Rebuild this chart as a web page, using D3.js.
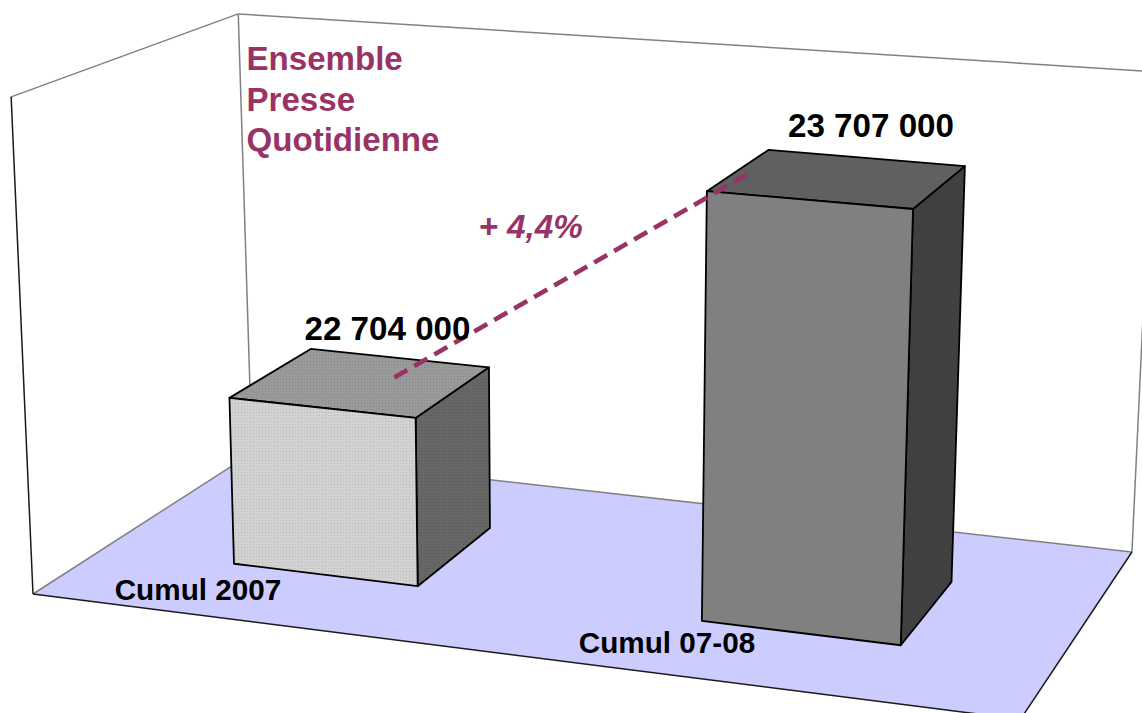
<!DOCTYPE html>
<html>
<head>
<meta charset="utf-8">
<script src="https://cdn.jsdelivr.net/npm/d3@7"></script>
<style>
html,body{margin:0;padding:0;background:#fff;overflow:hidden}
svg{display:block}
text{font-family:"Liberation Sans",Arial,sans-serif;font-weight:bold}
</style>
</head>
<body>
<svg id="c" width="1142" height="713"></svg>
<script>
// ---- data ----
const categories = ["Cumul 2007", "Cumul 07-08"];
const values = [22704000, 23707000];
const valueLabels = ["22 704 000", "23 707 000"];
const titleLines = ["Ensemble", "Presse", "Quotidienne"];
const changeLabel = "+ 4,4%";

// ---- layout ----
const W = 1142, H = 713;
const PLUM = "#993366";
const svg = d3.select("#c");

// camera: maps (u along front, v into depth, z up), each 0..1, to the screen
const cam = {a:906.3,b:252.3,c:33,p:-22.3, d:68.2,e:-81.1,f:594,q:-501, g:-0.0795,h:0.1322,r:-0.0396};
function project(u, v, z){
  const w = cam.g*u + cam.h*v + 1 + cam.r*z;
  return [(cam.a*u + cam.b*v + cam.c + cam.p*z)/w, (cam.d*u + cam.e*v + cam.f + cam.q*z)/w];
}
const uScale = d3.scaleBand().domain(categories).range([-0.0045, 0.9965]).paddingInner(0.598).paddingOuter(0.3);
const vRange = [0.30, 0.69];
const zScale = d3.scaleLinear().domain([22012000, 23981000]).range([0, 1]);
const poly = d3.line().curve(d3.curveLinearClosed);
const line = d3.line();

// dotted texture of the first bar
const defs = svg.append("defs");
[["front","#d2d2d2","#bababa"],["top","#9a9a9a","#888888"],["side","#676767","#585858"]].forEach(([id,bg,dot])=>{
  const p = defs.append("pattern").attr("id","dots-"+id).attr("width",3).attr("height",3).attr("patternUnits","userSpaceOnUse");
  p.append("rect").attr("width",3).attr("height",3).attr("fill",bg);
  p.append("rect").attr("x",1).attr("y",1).attr("width",1).attr("height",1).attr("fill",dot);
});
const faceFills = [
  {front:"url(#dots-front)", top:"url(#dots-top)", side:"url(#dots-side)"},
  {front:"#808080", top:"#606060", side:"#404040"}
];

// floor
svg.append("path")
  .attr("d", poly([project(0,0,0),project(1,0,0),project(1,1,0),project(0,1,0)]))
  .attr("fill","#ccccff");

// room frame
const grey = "#808080", dark = "#1a1a1a";
const frame = [
  {pts:[[0,1,0],[1,1,0]], c:grey},
  {pts:[[0,0,0],[0,1,0]], c:grey},
  {pts:[[0,1,0],[-0.003,1,0.993]], c:grey},
  {pts:[[1,1,0],[1,1,1]], c:grey},
  {pts:[[0,0,1],[-0.003,1,0.993]], c:grey},
  {pts:[[-0.003,1,0.993],[1,1,1.015]], c:grey},
  {pts:[[0,0,0],[0,0,1]], c:dark},
  {pts:[[0,0,0],[1,0,0]], c:dark},
  {pts:[[1,0,0],[1,1,0]], c:dark}
];
svg.append("g").selectAll("path").data(frame).join("path")
  .attr("d", d=>line(d.pts.map(p=>project(...p))))
  .attr("fill","none").attr("stroke",d=>d.c).attr("stroke-width",1.5);

// bars
const bars = categories.map((c,i)=>({c,i,v:values[i]}));
const barG = svg.append("g").selectAll("g").data(bars).join("g");
function faces(d){
  const u0 = uScale(d.c), u1 = u0 + uScale.bandwidth(), [v0,v1] = vRange, z = zScale(d.v);
  return [
    {k:"side", pts:[[u1,v0,0],[u1,v1,0],[u1,v1,z],[u1,v0,z]]},
    {k:"top", pts:[[u0,v0,z],[u1,v0,z],[u1,v1,z],[u0,v1,z]]},
    {k:"front", pts:[[u0,v0,0],[u1,v0,0],[u1,v0,z],[u0,v0,z]]}
  ].map(f=>({...f,i:d.i}));
}
barG.selectAll("path").data(faces).join("path")
  .attr("d", f=>poly(f.pts.map(p=>project(...p))))
  .attr("fill", f=>faceFills[f.i][f.k])
  .attr("stroke","#000").attr("stroke-width",1.8).attr("stroke-linejoin","round");

// change annotation, top of bar 1 to top of bar 2
const anchors = [[0.27,0.552],[0.660,0.486]];
svg.append("path")
  .attr("d", line(anchors.map((a,i)=>project(a[0],a[1],zScale(values[i])))))
  .attr("fill","none").attr("stroke",PLUM).attr("stroke-width",4.6).attr("stroke-dasharray","15 8.05");

// value labels
const valueLabelPos = [[387.5,340],[871,136.5]];
svg.append("g").selectAll("text").data(valueLabels).join("text")
  .attr("x",(d,i)=>valueLabelPos[i][0]).attr("y",(d,i)=>valueLabelPos[i][1])
  .attr("text-anchor","middle").attr("font-size",33.2).attr("fill","#000").text(d=>d);

// category labels
const catLabelPos = [[198,600],[667,653]];
svg.append("g").selectAll("text").data(categories).join("text")
  .attr("x",(d,i)=>catLabelPos[i][0]).attr("y",(d,i)=>catLabelPos[i][1])
  .attr("text-anchor","middle").attr("font-size",29.7).attr("fill","#000").text(d=>d);

// title
svg.append("g").selectAll("text").data(titleLines).join("text")
  .attr("x",246.5).attr("y",(d,i)=>70+i*40.5)
  .attr("font-size",33.1).attr("fill",PLUM).text(d=>d);

// change label
svg.append("text").attr("x",478.5).attr("y",238).attr("font-size",33.2)
  .attr("font-style","italic").attr("fill",PLUM).text(changeLabel);
</script>
</body>
</html>
